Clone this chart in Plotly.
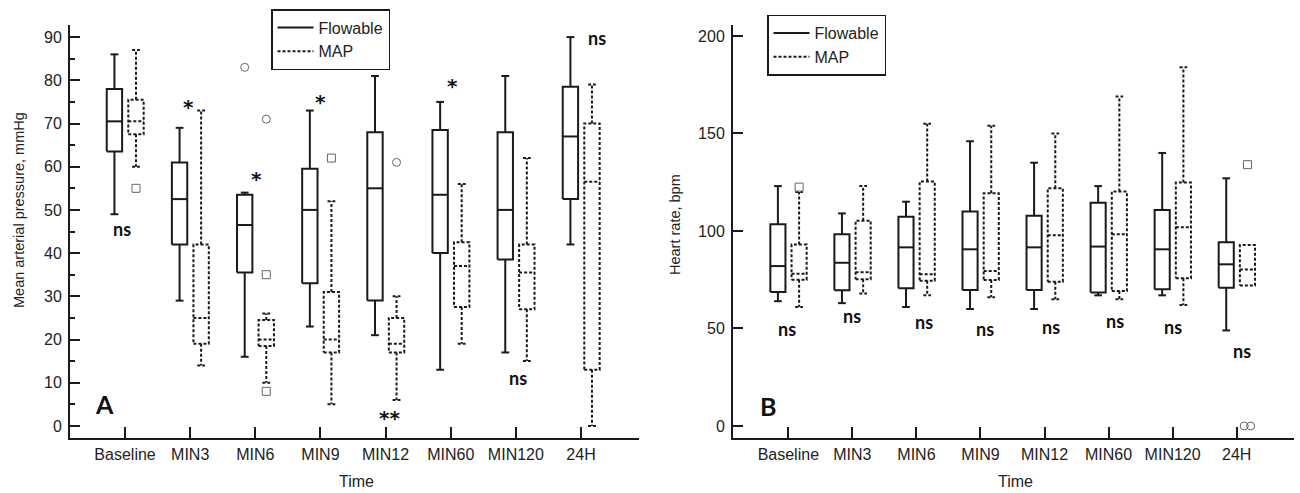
import plotly.graph_objects as go

categories = ["Baseline", "MIN3", "MIN6", "MIN9", "MIN12", "MIN60", "MIN120", "24H"]

# ---------- Panel A: mean arterial pressure (mmHg) ----------
a_flow_low = [49, 29, 16, 23, 21, 13, 17, 42]
a_flow_q1 = [63.5, 42, 35.5, 33, 29, 40, 38.5, 52.5]
a_flow_med = [70.5, 52.5, 46.5, 50, 55, 53.5, 50, 67]
a_flow_q3 = [78, 61, 53.5, 59.5, 68, 68.5, 68, 78.5]
a_flow_high = [86, 69, 54, 73, 81, 75, 81, 90]

a_map_low = [60, 14, 10, 5, 6, 19, 15, 0]
a_map_q1 = [67.5, 19, 18.5, 17, 17, 27.5, 27, 13]
a_map_med = [70.5, 25, 20, 20, 19, 37, 35.5, 56.5]
a_map_q3 = [75.5, 42, 24.5, 31, 25, 42.5, 42, 70]
a_map_high = [87, 73, 26, 52, 30, 56, 62, 79]

a_flow_out_cat = ["MIN6"]
a_flow_out_val = [83]
a_flow_out_sym = ["circle-open"]
a_map_out_cat = ["Baseline", "MIN6", "MIN6", "MIN6", "MIN9", "MIN12"]
a_map_out_val = [55, 71, 35, 8, 62, 61]
a_map_out_sym = ["square-open", "circle-open", "square-open", "square-open", "square-open", "circle-open"]

a_sig_text = ["ns", "*", "*", "*", "**", "*", "ns", "ns"]
a_sig_y = [45.5, 75, 58.3, 76.2, 2.9, 79.8, 11, 89.7]

# ---------- Panel B: heart rate (bpm) ----------
b_flow_low = [64, 63, 61, 60, 60, 67, 67, 49]
b_flow_q1 = [68.7, 69.6, 70.6, 69.7, 69.7, 68.5, 70.1, 70.9]
b_flow_med = [82, 83.7, 91.6, 90.6, 91.6, 92, 90.6, 82.9]
b_flow_q3 = [103.5, 98.3, 107.3, 110, 107.8, 114.5, 110.8, 94.2]
b_flow_high = [123, 109, 115, 146, 135, 123, 140, 127]

b_map_low = [61, 68, 67, 66, 65, 65, 62, 72]
b_map_q1 = [75, 75.2, 74.5, 74.9, 74, 69.2, 75.7, 72]
b_map_med = [78, 78.8, 77.8, 79.5, 97.8, 98.3, 101.9, 80.3]
b_map_q3 = [93, 105.3, 125.3, 119.3, 121.9, 120.2, 124.8, 92.8]
b_map_high = [120, 123, 155, 154, 150, 169, 184, 92.8]

b_map_out_cat = ["Baseline", "24H", "24H", "24H"]
b_map_out_val = [122.5, 134, 0, 0]
b_map_out_sym = ["square-open", "square-open", "circle-open", "circle-open"]

b_sig_text = ["ns"] * 8
b_sig_y = [49.6, 56.6, 53.5, 49.6, 50.6, 54, 50.6, 38.5]

# ---------- styling / layout constants ----------
FLOW_OFF = -0.163
MAP_OFF = 0.168
BOX_HALF = 0.118
CAP_HALF = 0.06
OUT_DODGE_B = [0, 0, -0.05, 0.05]
A_SIG_DX = [-0.05, -0.03, 0.02, 0.0, 0.06, 0.03, 0.03, 0.25]
B_SIG_DX = [-0.02, 0.0, 0.12, 0.07, 0.1, 0.1, 0.0, 0.09]

INK = "#1a1a1a"
SANS = "Liberation Sans, Arial, sans-serif"
TICKFONT = dict(family=SANS, size=16, color="#222")
NS_FONT = dict(family="Lato, sans-serif", size=18, color="#111")
STAR_FONT = dict(family="DejaVu Sans, sans-serif", size=20, color="#111")
idx = {c: i for i, c in enumerate(categories)}


def box_path(low, q1, med, q3, high, off):
    xs, ys = [], []
    for i in range(len(categories)):
        c = i + off
        x0, x1 = c - BOX_HALF, c + BOX_HALF
        xs += [x0, x1, x1, x0, x0, None]
        ys += [q1[i], q1[i], q3[i], q3[i], q1[i], None]
        xs += [x0, x1, None]
        ys += [med[i], med[i], None]
        if high[i] > q3[i]:
            xs += [c, c, None, c - CAP_HALF, c + CAP_HALF, None]
            ys += [q3[i], high[i], None, high[i], high[i], None]
        if low[i] < q1[i]:
            xs += [c, c, None, c - CAP_HALF, c + CAP_HALF, None]
            ys += [q1[i], low[i], None, low[i], low[i], None]
    return xs, ys


fig = go.Figure()


def add_panel(stats_flow, stats_map, outs, xa, ya, legend):
    fx, fy = box_path(*stats_flow, FLOW_OFF)
    fig.add_trace(go.Scatter(x=fx, y=fy, mode="lines", name="Flowable",
                             line=dict(color=INK, width=2), xaxis=xa, yaxis=ya,
                             legend=legend, hoverinfo="skip"))
    mx, my = box_path(*stats_map, MAP_OFF)
    fig.add_trace(go.Scatter(x=mx, y=my, mode="lines", name="MAP",
                             line=dict(color=INK, width=2, dash="3px,2px"), xaxis=xa, yaxis=ya,
                             legend=legend, hoverinfo="skip"))
    for cats, vals, syms, off, dodge in outs:
        if not cats:
            continue
        fig.add_trace(go.Scatter(
            x=[idx[c] + off + d for c, d in zip(cats, dodge)], y=vals, mode="markers",
            marker=dict(symbol=syms, size=8, color="#666", line=dict(width=1, color="#666")),
            showlegend=False, xaxis=xa, yaxis=ya, hoverinfo="skip"))


add_panel((a_flow_low, a_flow_q1, a_flow_med, a_flow_q3, a_flow_high),
          (a_map_low, a_map_q1, a_map_med, a_map_q3, a_map_high),
          [(a_flow_out_cat, a_flow_out_val, a_flow_out_sym, FLOW_OFF, [0] * len(a_flow_out_cat)),
           (a_map_out_cat, a_map_out_val, a_map_out_sym, MAP_OFF, [0] * len(a_map_out_cat))],
          "x", "y", "legend")
add_panel((b_flow_low, b_flow_q1, b_flow_med, b_flow_q3, b_flow_high),
          (b_map_low, b_map_q1, b_map_med, b_map_q3, b_map_high),
          [(b_map_out_cat, b_map_out_val, b_map_out_sym, MAP_OFF, OUT_DODGE_B)],
          "x2", "y2", "legend2")


def sig_ann(i, t, y, dx, xref, yref):
    star = "*" in t
    return dict(x=i + dx, y=y, xref=xref, yref=yref, text=f"<b>{t}</b>",
                showarrow=False, font=STAR_FONT if star else NS_FONT,
                xanchor="center", yanchor="middle", yshift=-5 if star else 0)


ann = []
for i, (t, y) in enumerate(zip(a_sig_text, a_sig_y)):
    ann.append(sig_ann(i, t, y, A_SIG_DX[i], "x", "y"))
for i, (t, y) in enumerate(zip(b_sig_text, b_sig_y)):
    ann.append(sig_ann(i, t, y, B_SIG_DX[i], "x2", "y2"))


def paper_text(px, py, text, font, angle=0):
    return dict(x=px / 1300, y=1 - py / 493, xref="paper", yref="paper", text=text,
                showarrow=False, font=font, textangle=angle,
                xanchor="center", yanchor="middle")


LABEL_FONT = dict(family="Lato, sans-serif", size=25, color="#111")
YTITLE_FONT = dict(family=SANS, size=14.5, color="#222")
ann += [
    paper_text(104, 404, "<b>A</b>", LABEL_FONT),
    paper_text(768, 406, "<b>B</b>", LABEL_FONT),
    paper_text(19, 210, "Mean arterial pressure, mmHg", YTITLE_FONT, -90),
    paper_text(675, 225, "Heart rate, bpm", YTITLE_FONT, -90),
    paper_text(356, 481, "Time", TICKFONT),
    paper_text(1015, 481, "Time", TICKFONT),
]

xcommon = dict(tickmode="array", tickvals=list(range(len(categories))), ticktext=categories,
               showline=True, linecolor=INK, linewidth=2, ticks="inside", ticklen=11,
               tickwidth=2, tickcolor=INK, showgrid=False, zeroline=False, tickfont=TICKFONT,
               ticklabelstandoff=1)
ycommon = dict(showline=True, linecolor=INK, linewidth=2, ticks="inside", ticklen=10,
               tickwidth=2, tickcolor=INK, showgrid=False, zeroline=False, tickfont=TICKFONT,
               ticklabelstandoff=3)

legcommon = dict(bordercolor=INK, borderwidth=1.5, bgcolor="white",
                 font=dict(family=SANS, size=16, color="#222"),
                 xanchor="left", yanchor="top", tracegroupgap=0, itemwidth=36,
                 entrywidth=118, entrywidthmode="pixels")

fig.update_layout(
    width=1300, height=493, margin=dict(l=0, r=0, t=0, b=0),
    paper_bgcolor="white", plot_bgcolor="white", showlegend=True,
    xaxis=dict(domain=[70 / 1300, 639 / 1300], range=[-0.845, 7.89], anchor="y", **xcommon),
    yaxis=dict(domain=[(493 - 438) / 493, (493 - 25) / 493], range=[-2.8, 92.8], anchor="x",
               tickvals=list(range(0, 91, 10)),
               minor=dict(dtick=5, tick0=0, ticks="inside", ticklen=5, tickwidth=1.5, tickcolor=INK),
               **ycommon),
    xaxis2=dict(domain=[733 / 1300, 1294 / 1300], range=[-0.864, 7.895], anchor="y2", **xcommon),
    yaxis2=dict(domain=[(493 - 438) / 493, (493 - 25) / 493], range=[-6.15, 205.6], anchor="x2",
                tickvals=[0, 50, 100, 150, 200], **ycommon),
    legend=dict(x=271 / 1300, y=1 - 9 / 493, **legcommon),
    legend2=dict(x=767 / 1300, y=1 - 14.5 / 493, **legcommon),
    annotations=ann,
)

fig.write_html("out.html")
